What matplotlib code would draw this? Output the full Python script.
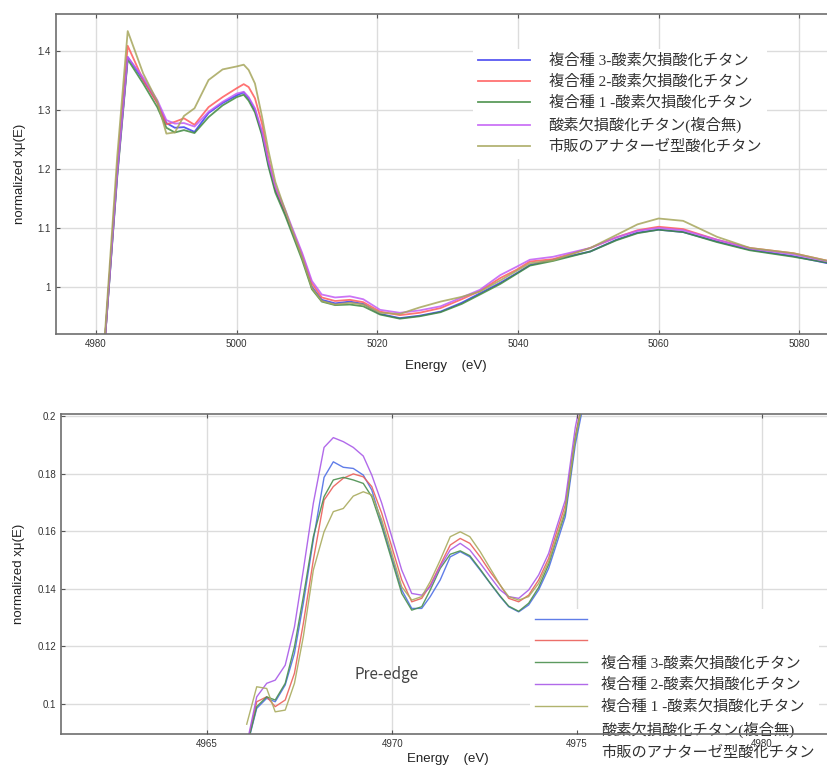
import matplotlib
matplotlib.use("Agg")
import matplotlib.pyplot as plt
from matplotlib.lines import Line2D

# series names (same order as the legend)
labels = [
    "複合種 3-酸素欠損酸化チタン",
    "複合種 2-酸素欠損酸化チタン",
    "複合種 1 -酸素欠損酸化チタン",
    "酸素欠損酸化チタン(複合無)",
    "市販のアナターゼ型酸化チタン",
]

# --- XANES, full range ---
energy_top = [4981.2, 4983.0, 4984.5, 4986.7, 4988.7, 4990.0, 4991.2, 4992.5, 4994.0, 4996.0,
              4998.0, 5000.0, 5001.0, 5001.7, 5002.6, 5003.6, 5004.5, 5005.5, 5006.9, 5007.8,
              5009.3, 5010.7, 5012.1, 5014.0, 5016.1, 5018.0, 5020.4, 5023.2, 5026.0, 5029.0,
              5032.0, 5034.6, 5037.5, 5039.8, 5041.7, 5045.0, 5050.3, 5054.0, 5057.0, 5060.0,
              5063.5, 5068.3, 5073.0, 5079.2, 5084.5]
top_c3 = [0.90, 1.19, 1.390, 1.351, 1.313, 1.278, 1.270, 1.271, 1.263, 1.295,
          1.312, 1.325, 1.330, 1.320, 1.300, 1.260, 1.209, 1.164, 1.125, 1.097,
          1.051, 1.000, 0.978, 0.972, 0.975, 0.971, 0.954, 0.947, 0.951, 0.958,
          0.973, 0.989, 1.007, 1.023, 1.037, 1.046, 1.060, 1.080, 1.092, 1.097,
          1.093, 1.077, 1.063, 1.052, 1.039]
top_c2 = [0.90, 1.20, 1.409, 1.351, 1.312, 1.276, 1.280, 1.286, 1.275, 1.305,
          1.322, 1.337, 1.344, 1.339, 1.320, 1.277, 1.218, 1.168, 1.128, 1.100,
          1.055, 1.006, 0.982, 0.976, 0.978, 0.974, 0.958, 0.952, 0.956, 0.964,
          0.979, 0.993, 1.015, 1.029, 1.043, 1.047, 1.066, 1.084, 1.096, 1.102,
          1.098, 1.080, 1.066, 1.057, 1.043]
top_c1 = [0.90, 1.185, 1.386, 1.345, 1.305, 1.270, 1.262, 1.266, 1.261, 1.288,
          1.308, 1.322, 1.326, 1.316, 1.296, 1.257, 1.205, 1.160, 1.121, 1.093,
          1.046, 0.996, 0.975, 0.969, 0.970, 0.967, 0.953, 0.946, 0.950, 0.957,
          0.971, 0.987, 1.005, 1.022, 1.036, 1.044, 1.060, 1.079, 1.091, 1.097,
          1.093, 1.076, 1.062, 1.051, 1.040]
top_none = [0.90, 1.19, 1.390, 1.355, 1.317, 1.283, 1.277, 1.278, 1.272, 1.297,
            1.314, 1.328, 1.331, 1.322, 1.303, 1.264, 1.214, 1.170, 1.131, 1.103,
            1.058, 1.010, 0.987, 0.982, 0.984, 0.979, 0.961, 0.956, 0.960, 0.967,
            0.982, 0.995, 1.020, 1.034, 1.046, 1.051, 1.066, 1.084, 1.095, 1.100,
            1.096, 1.080, 1.065, 1.055, 1.042]
top_anatase = [0.91, 1.22, 1.434, 1.362, 1.315, 1.260, 1.262, 1.290, 1.303, 1.351,
               1.369, 1.374, 1.377, 1.368, 1.345, 1.289, 1.232, 1.178, 1.130, 1.099,
               1.050, 0.998, 0.976, 0.970, 0.973, 0.970, 0.956, 0.954, 0.965, 0.975,
               0.983, 0.992, 1.011, 1.027, 1.040, 1.045, 1.066, 1.088, 1.106, 1.116,
               1.112, 1.085, 1.066, 1.057, 1.043]

# --- pre-edge region ---
energy_pre = [4966.07, 4966.34, 4966.61, 4966.84, 4967.11, 4967.36, 4967.60, 4967.87, 4968.16, 4968.41,
              4968.68, 4968.95, 4969.22, 4969.45, 4969.72, 4969.99, 4970.26, 4970.53, 4970.80, 4971.03,
              4971.30, 4971.57, 4971.84, 4972.10, 4972.38, 4972.65, 4972.92, 4973.15, 4973.42, 4973.69,
              4973.96, 4974.23, 4974.45, 4974.68, 4974.95, 4975.20]
pre_c3 = [0.0850, 0.0985, 0.1020, 0.1008, 0.1066, 0.1176, 0.1350, 0.1570, 0.1787, 0.1841,
          0.1822, 0.1818, 0.1795, 0.1743, 0.1627, 0.1511, 0.1396, 0.1332, 0.1332, 0.1373,
          0.1431, 0.1511, 0.1529, 0.1511, 0.1465, 0.1419, 0.1373, 0.1338, 0.1320, 0.1344,
          0.1396, 0.1471, 0.1558, 0.1650, 0.1900, 0.2060]
pre_c2 = [0.0855, 0.1008, 0.1025, 0.0991, 0.1014, 0.1107, 0.1280, 0.1500, 0.1708, 0.1755,
          0.1784, 0.1799, 0.1789, 0.1755, 0.1662, 0.1546, 0.1431, 0.1355, 0.1367, 0.1413,
          0.1483, 0.1552, 0.1575, 0.1558, 0.1511, 0.1459, 0.1413, 0.1367, 0.1355, 0.1378,
          0.1431, 0.1506, 0.1598, 0.1691, 0.1930, 0.2090]
pre_c1 = [0.0850, 0.0991, 0.1025, 0.1014, 0.1072, 0.1199, 0.1373, 0.1581, 0.1720, 0.1778,
          0.1787, 0.1778, 0.1766, 0.1720, 0.1616, 0.1500, 0.1384, 0.1326, 0.1338, 0.1396,
          0.1471, 0.1520, 0.1532, 0.1515, 0.1468, 0.1420, 0.1375, 0.1340, 0.1322, 0.1350,
          0.1405, 0.1485, 0.1575, 0.1665, 0.1920, 0.2080]
pre_none = [0.0860, 0.1025, 0.1072, 0.1083, 0.1135, 0.1268, 0.1465, 0.1697, 0.1891, 0.1925,
            0.1911, 0.1891, 0.1861, 0.1795, 0.1697, 0.1581, 0.1465, 0.1384, 0.1378, 0.1407,
            0.1477, 0.1535, 0.1558, 0.1535, 0.1489, 0.1442, 0.1396, 0.1373, 0.1367, 0.1396,
            0.1448, 0.1523, 0.1616, 0.1708, 0.1960, 0.2120]
pre_anatase = [0.0930, 0.1060, 0.1054, 0.0973, 0.0979, 0.1072, 0.1234, 0.1465, 0.1598, 0.1668,
               0.1679, 0.1722, 0.1737, 0.1726, 0.1639, 0.1523, 0.1407, 0.1361, 0.1373, 0.1425,
               0.1500, 0.1581, 0.1598, 0.1581, 0.1529, 0.1471, 0.1413, 0.1373, 0.1361, 0.1373,
               0.1419, 0.1494, 0.1581, 0.1674, 0.1920, 0.2080]

top_colors = ["#3b3bf0", "#ff5a5a", "#3f8a3f", "#c25cf5", "#a6a65c"]
pre_colors = ["#4f6fe6", "#ea5f5a", "#4a8f4f", "#a95ae8", "#a9ab5e"]

tick_font = ["Liberation Sans", "DejaVu Sans"]
legend_font = ["Liberation Serif", "Noto Sans CJK JP", "DejaVu Sans"]
grid_color = "#dcdcdc"


def style_axes(ax):
    for side in ["left", "bottom", "top", "right"]:
        ax.spines[side].set_color("#6e6e6e")
        ax.spines[side].set_linewidth(1.2)
    ax.tick_params(direction="in", top=True, right=True, length=3, color="#555555",
                   labelsize=7, labelcolor="#333333")
    for lab in ax.get_xticklabels() + ax.get_yticklabels():
        lab.set_family(tick_font)
    ax.set_ylabel("normalized xμ(E)", fontsize=9.5, family=tick_font, color="#222222")


def white_legend(leg, zorder=None):
    frame = leg.get_frame()
    frame.set_facecolor("white")
    frame.set_edgecolor("none")
    frame.set_alpha(1)
    for t in leg.get_texts():
        t.set_color("#333333")
    if zorder is not None:
        leg.set_zorder(zorder)


W, H = 827, 769
fig = plt.figure(figsize=(W / 100, H / 100), dpi=100)

# ---------- top panel ----------
ax1 = fig.add_axes([56 / W, (H - 334) / H, (835 - 56) / W, 320 / H])
for ys, c, lab in zip([top_c3, top_c2, top_c1, top_none, top_anatase], top_colors, labels):
    ax1.plot(energy_top, ys, color=c, lw=1.3, alpha=0.85, label=lab)
ax1.set_xlim(4974.3, 5085.1)
ax1.set_ylim(0.920, 1.463)
ax1.set_xticks([4980, 5000, 5020, 5040, 5060, 5080])
ax1.set_yticks([1.0, 1.1, 1.2, 1.3, 1.4])
ax1.set_yticklabels(["1", "1.1", "1.2", "1.3", "1.4"])
ax1.grid(True, color=grid_color, lw=1.0)
style_axes(ax1)
ax1.set_xlabel("Energy    (eV)", fontsize=9.5, family=tick_font, color="#222222", labelpad=8)
ax1.yaxis.set_label_coords(-0.039, 0.5)
leg1 = ax1.legend(loc="upper left", bbox_to_anchor=(473 / W, 1 - 49 / H),
                  bbox_transform=fig.transFigure, frameon=True, fancybox=False,
                  prop={"family": legend_font, "size": 11}, handlelength=3.4,
                  handletextpad=1.25, labelspacing=0.44, borderpad=0.3, borderaxespad=0)
white_legend(leg1)

# ---------- bottom panel (pre-edge) ----------
ax2 = fig.add_axes([61 / W, (H - 734) / H, (835 - 61) / W, 320 / H])
pre_lines = []
for ys, c in zip([pre_c3, pre_c2, pre_c1, pre_none, pre_anatase], pre_colors):
    ln, = ax2.plot(energy_pre, ys, color=c, lw=1.0, alpha=0.9)
    pre_lines.append(ln)
ax2.set_xlim(4961.05, 4981.97)
ax2.set_ylim(0.0896, 0.2007)
ax2.set_xticks([4965, 4970, 4975, 4980])
ax2.set_yticks([0.10, 0.12, 0.14, 0.16, 0.18, 0.20])
ax2.set_yticklabels(["0.1", "0.12", "0.14", "0.16", "0.18", "0.2"])
ax2.grid(True, axis="y", color=grid_color, lw=1.0)
for xv in ax2.get_xticks():
    ax2.axvline(xv, color=grid_color, lw=1.0, zorder=1)
style_axes(ax2)
ax2.set_xlabel("Energy    (eV)", fontsize=9.5, family=tick_font, color="#222222", labelpad=3)
ax2.yaxis.set_label_coords(-0.046, 0.5)
ax2.xaxis.set_zorder(3)
ax2.text(4969.84, 0.1104, "Pre-edge", ha="center", va="center", fontsize=11,
         family=["Noto Sans CJK JP", "DejaVu Sans"], color="#444444")

# the legend in the source image is shifted: swatches sit two rows above their texts
blank = Line2D([], [], color="none")
leg2 = ax2.legend(pre_lines + [blank, blank], ["", ""] + labels,
                  loc="upper left", bbox_to_anchor=(530 / W, 1 - 609 / H),
                  bbox_transform=fig.transFigure, frameon=True, fancybox=False,
                  prop={"family": legend_font, "size": 11}, handlelength=3.4,
                  handletextpad=0.95, labelspacing=0.49, borderpad=0.3, borderaxespad=0)
white_legend(leg2, zorder=2)

fig.savefig("out.png", dpi=100)
